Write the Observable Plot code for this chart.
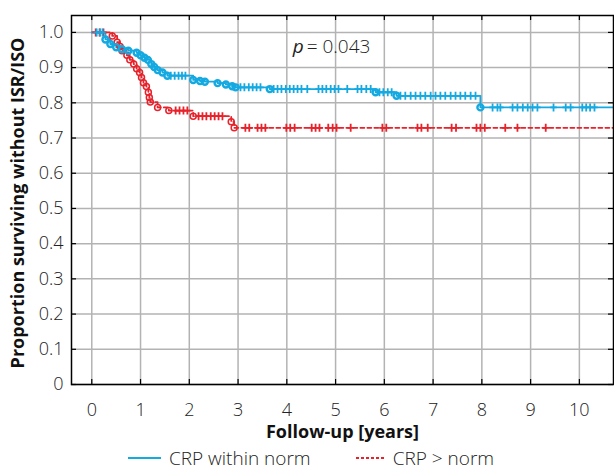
<!DOCTYPE html>
<html><head><meta charset="utf-8">
<script src="https://cdn.jsdelivr.net/npm/d3@7"></script>
<script src="https://cdn.jsdelivr.net/npm/@observablehq/plot@0.6"></script>
<style>
body{margin:0;background:#fff;font-family:"Open Sans",sans-serif;}
#chart svg{display:block;}
#legend{display:flex;justify-content:center;align-items:center;height:20px;line-height:20px;margin-top:4px;padding-left:8px;font-size:19px;color:#222;font-weight:300;}
.item{display:flex;align-items:center;}
.item span{display:inline-block;height:20px;line-height:20px;}
</style></head><body>
<div id="chart"></div>
<div id="legend"></div>
<script>
// ---- data ----
const seriesNames = ["CRP within norm", "CRP > norm"];
const followEnd = 10.7;
// event times (years) and survival after each event
const blueEventT = [0.28,0.38,0.50,0.62,0.75,0.92,1.00,1.08,1.15,1.22,1.28,1.35,1.45,1.55,2.08,2.22,2.32,2.58,2.75,2.88,2.95,3.65,5.82,6.25,7.97];
const blueEventS = [0.980,0.967,0.958,0.952,0.948,0.942,0.935,0.928,0.922,0.910,0.902,0.893,0.886,0.877,0.865,0.862,0.860,0.856,0.852,0.847,0.844,0.839,0.830,0.820,0.787];
const blueCensorT = [0.10,0.17,0.22,1.62,1.70,1.78,1.85,1.92,3.05,3.13,3.22,3.30,3.38,3.46,3.73,3.81,3.89,3.98,4.06,4.14,4.22,4.30,4.42,4.65,4.73,4.81,4.90,4.98,5.06,5.24,5.45,5.53,5.63,5.72,5.90,5.98,6.07,6.15,6.33,6.43,6.54,6.64,6.74,6.84,6.95,7.05,7.15,7.25,7.36,7.46,7.56,7.66,7.77,7.87,8.22,8.32,8.38,8.63,8.73,8.84,8.94,9.04,9.14,9.47,9.72,9.82,10.06,10.14,10.22,10.31];
const redEventT = [0.42,0.52,0.58,0.62,0.72,0.78,0.86,0.92,0.98,1.02,1.06,1.12,1.16,1.18,1.20,1.35,1.58,2.08,2.86,2.92];
const redEventS = [0.990,0.972,0.960,0.948,0.935,0.922,0.910,0.897,0.886,0.872,0.857,0.846,0.830,0.815,0.802,0.787,0.778,0.762,0.746,0.729];
const redCensorT = [0.08,0.16,0.24,1.72,1.80,1.88,1.96,2.19,2.27,2.35,2.44,2.52,2.60,2.68,3.15,3.23,3.40,3.48,3.56,3.99,4.07,4.16,4.51,4.59,4.67,4.85,4.94,5.02,5.31,5.96,6.04,6.68,6.76,6.89,7.38,7.47,7.89,7.97,8.06,8.48,8.73,9.31];
const xTicks = [0,1,2,3,4,5,6,7,8,9,10];
const yTicks = [0,0.1,0.2,0.3,0.4,0.5,0.6,0.7,0.8,0.9,1.0];
const pText = ["p", "= 0.043"];
const xLabel = "Follow-up [years]";
const yLabel = "Proportion surviving without ISR/ISO";

const blueC = "#14a9e1", redC = "#e8222b";

function steps(ts, ss) {
  const pts = [{t: 0, s: 1}];
  ts.forEach((t, i) => pts.push({t, s: ss[i]}));
  pts.push({t: followEnd, s: ss[ss.length - 1]});
  return pts;
}
function survAt(ts, ss, t) {
  let s = 1;
  ts.forEach((e, i) => { if (e <= t) s = ss[i]; });
  return s;
}
const blueLine = steps(blueEventT, blueEventS);
const redLine = steps(redEventT, redEventS);
const blueEv = blueEventT.map((t, i) => ({t, s: blueEventS[i]}));
const redEv = redEventT.map((t, i) => ({t, s: redEventS[i]}));
const blueCen = blueCensorT.map(t => ({t, s: survAt(blueEventT, blueEventS, t)}));
const redCen = redCensorT.map(t => ({t, s: survAt(redEventT, redEventS, t)}));

const plusSymbol = {
  draw(ctx, size) {
    const r = Math.sqrt(size / Math.PI);
    ctx.moveTo(-r * 0.8, 0); ctx.lineTo(r * 0.8, 0);
    ctx.moveTo(0, -r); ctx.lineTo(0, r);
  }
};

const W = 614, H = 444, mT = 15, mB = 60, mL = 71, mR = 1;
const innerW = W - mL - mR, innerH = H - mT - mB;

const chart = Plot.plot({
  width: W, height: H,
  marginTop: mT, marginBottom: mB, marginLeft: mL, marginRight: mR,
  style: {fontFamily: "Open Sans, sans-serif", fontSize: "18px", color: "#222", background: "#fff", overflow: "visible"},
  x: {domain: [-0.416, 10.7]},
  y: {domain: [0, 1.048]},
  marks: [
    Plot.gridX(xTicks, {stroke: "#b3b3b3", strokeOpacity: 1, strokeWidth: 1.5}),
    Plot.gridY(yTicks, {stroke: "#b3b3b3", strokeOpacity: 1, strokeWidth: 1.5}),
    Plot.axisX(xTicks, {tickSize: 0, tickPadding: 19, label: null, fontWeight: 300, fontSize: 18}),
    Plot.axisY(yTicks, {tickSize: 0, tickPadding: 8, label: null, fontWeight: 300, fontSize: 18, tickFormat: d => d === 0 ? "0" : d.toFixed(1)}),
    Plot.ruleX(xTicks, {insetTop: innerH - 5, stroke: "black", strokeWidth: 1.2}),
    Plot.ruleX(xTicks, {insetBottom: innerH - 5, stroke: "black", strokeWidth: 1.2}),
    Plot.ruleY(yTicks, {insetRight: innerW - 5, stroke: "black", strokeWidth: 1.2}),
    Plot.ruleY(yTicks, {insetLeft: innerW - 5, stroke: "black", strokeWidth: 1.2}),
    Plot.line(redLine, {x: "t", y: "s", curve: "step-after", stroke: redC, strokeWidth: 1.8, strokeDasharray: "4,3"}),
    Plot.line(blueLine, {x: "t", y: "s", curve: "step-after", stroke: blueC, strokeWidth: 1.8}),
    Plot.dot(redCen, {x: "t", y: "s", symbol: plusSymbol, r: 4, stroke: redC, fill: "none", strokeWidth: 1.8}),
    Plot.dot(blueCen, {x: "t", y: "s", symbol: plusSymbol, r: 4, stroke: blueC, fill: "none", strokeWidth: 1.8}),
    Plot.dot(redEv, {x: "t", y: "s", r: 3, stroke: redC, fill: "none", strokeWidth: 1.5}),
    Plot.dot(blueEv, {x: "t", y: "s", r: 3, stroke: blueC, fill: "none", strokeWidth: 2.4}),
    Plot.frame({stroke: "black", strokeWidth: 1.5}),
    Plot.text([pText[0]], {x: 4.12, y: 0.96, text: d => d, textAnchor: "start", fontStyle: "italic", fontSize: 19, fill: "#222"}),
    Plot.text([pText[1]], {x: 4.12, y: 0.96, text: d => d, textAnchor: "start", dx: 14, fontSize: 19, fill: "#222", fontWeight: 300}),
    Plot.text([xLabel], {frameAnchor: "bottom", text: d => d, dy: 48, lineAnchor: "middle", textAnchor: "middle", fontWeight: "bold", fontSize: 18, fill: "#111"}),
    Plot.text([yLabel], {frameAnchor: "left", text: d => d, dx: -53, dy: 3, rotate: -90, lineAnchor: "middle", textAnchor: "middle", fontWeight: "bold", fontSize: 18, fill: "#111"})
  ]
});
document.getElementById("chart").appendChild(chart);

const legend = document.getElementById("legend");
legend.innerHTML = `
<div class="item"><svg width="33" height="10"><line x1="0" y1="5" x2="33" y2="5" stroke="${blueC}" stroke-width="2"/></svg><span style="margin-left:8px">${seriesNames[0]}</span></div>
<div class="item" style="margin-left:45px"><svg width="30" height="10"><line x1="0" y1="5" x2="30" y2="5" stroke="${redC}" stroke-width="2" stroke-dasharray="3,2"/></svg><span style="margin-left:7px">${seriesNames[1].replace(">", "&gt;")}</span></div>`;
</script>
</body></html>
